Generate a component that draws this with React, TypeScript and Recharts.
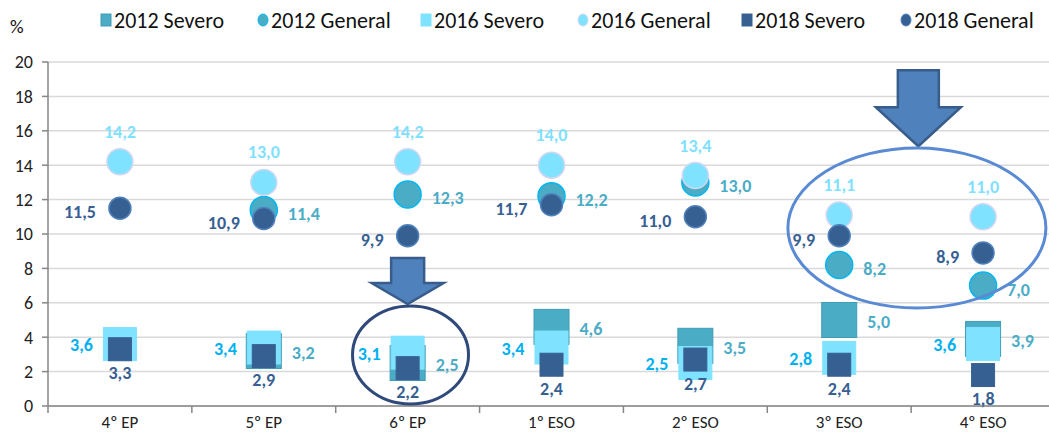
import React from "react";
import {
  ScatterChart,
  Scatter,
  XAxis,
  YAxis,
  CartesianGrid,
  ReferenceDot,
} from "recharts";

const categories = ["4º EP", "5º EP", "6º EP", "1º ESO", "2º ESO", "3º ESO", "4º ESO"];
const severo2012 = [null, 3.2, 2.5, 4.6, 3.5, 5.0, 3.9];
const general2012 = [null, 11.4, 12.3, 12.2, 13.0, 8.2, 7.0];
const severo2016 = [3.6, 3.4, 3.1, 3.4, 2.5, 2.8, 3.6];
const general2016 = [14.2, 13.0, 14.2, 14.0, 13.4, 11.1, 11.0];
const severo2018 = [3.3, 2.9, 2.2, 2.4, 2.7, 2.4, 1.8];
const general2018 = [11.5, 10.9, 9.9, 11.7, 11.0, 9.9, 8.9];
const yTicks = [0, 2, 4, 6, 8, 10, 12, 14, 16, 18, 20];

const FONT = "Carlito, Lato, 'Noto Sans', sans-serif";

const fmt = (v: number) => v.toFixed(1).replace(".", ",");

type Series = {
  name: string;
  values: (number | null)[];
  kind: "square" | "circle";
  size: number;
  fill: string;
  stroke: string;
  labelColor: string;
  dx: number;
  dy: number;
  anchor: "start" | "middle" | "end";
};

const series: Series[] = [
  { name: "2012 Severo", values: severo2012, kind: "square", size: 35, fill: "#4BACC6", stroke: "#3E9CB6", labelColor: "#4BACC6", dx: 28, dy: 2, anchor: "start" },
  { name: "2012 General", values: general2012, kind: "circle", size: 27, fill: "#4BACC6", stroke: "#00B8F0", labelColor: "#4BACC6", dx: 24, dy: 4, anchor: "start" },
  { name: "2016 Severo", values: severo2016, kind: "square", size: 33, fill: "#7FE3FF", stroke: "#7FE3FF", labelColor: "#00B0F0", dx: -27, dy: 1, anchor: "end" },
  { name: "2016 General", values: general2016, kind: "circle", size: 26, fill: "#7FE3FF", stroke: "#D2D6F0", labelColor: "#7FE1FF", dx: 0, dy: -30, anchor: "middle" },
  { name: "2018 Severo", values: severo2018, kind: "square", size: 23, fill: "#376092", stroke: "#376092", labelColor: "#376092", dx: 0, dy: 24, anchor: "middle" },
  { name: "2018 General", values: general2018, kind: "circle", size: 22, fill: "#376092", stroke: "#4F81BD", labelColor: "#376092", dx: -24, dy: 4, anchor: "end" },
];

const toPoints = (values: (number | null)[]) =>
  values
    .map((v, i) => (v == null ? null : { x: i + 0.5, y: v }))
    .filter((p) => p !== null) as { x: number; y: number }[];

const makeShape = (s: Series) => (props: any) => {
  const { cx, cy, payload } = props;
  if (cx == null || cy == null) return <g />;
  const h = s.size / 2;
  return (
    <g>
      {s.kind === "square" ? (
        <rect x={cx - h} y={cy - h} width={s.size} height={s.size} fill={s.fill} stroke={s.stroke} strokeWidth={1} />
      ) : (
        <circle cx={cx} cy={cy} r={h} fill={s.fill} stroke={s.stroke} strokeWidth={1.5} />
      )}
      <text
        x={cx + s.dx}
        y={cy + s.dy}
        textAnchor={s.anchor}
        dominantBaseline="central"
        fill={s.labelColor}
        fontFamily={FONT}
        fontWeight="bold"
        fontSize={18}
      >
        {fmt(payload.y)}
      </text>
    </g>
  );
};

const XTick = (props: any) => {
  const { x, y, payload } = props;
  const v = payload.value;
  if (Number.isInteger(v)) {
    return <line x1={x} x2={x} y1={y} y2={y + 7} stroke="#868686" strokeWidth={1.5} />;
  }
  return (
    <text x={x} y={y + 16} textAnchor="middle" dominantBaseline="central" fill="#222" fontFamily={FONT} fontSize={17}>
      {categories[Math.floor(v)]}
    </text>
  );
};

const xTicks = Array.from({ length: 15 }, (_, i) => i / 2);

// annotation shapes (arrows and ellipses)
const DownArrow = (shaftW: number, headW: number, shaftH: number, headH: number, fill: string, stroke: string) => (props: any) => {
  const { cx, cy } = props;
  const pts = [
    [cx - shaftW / 2, cy - headH - shaftH],
    [cx + shaftW / 2, cy - headH - shaftH],
    [cx + shaftW / 2, cy - headH],
    [cx + headW / 2, cy - headH],
    [cx, cy],
    [cx - headW / 2, cy - headH],
    [cx - shaftW / 2, cy - headH],
  ]
    .map((p) => p.join(","))
    .join(" ");
  return <polygon points={pts} fill={fill} stroke={stroke} strokeWidth={2.5} strokeLinejoin="miter" />;
};

const Ellipse = (rx: number, ry: number, stroke: string) => (props: any) => (
  <ellipse cx={props.cx} cy={props.cy} rx={rx} ry={ry} fill="none" stroke={stroke} strokeWidth={3} />
);

const Legend = () => {
  const lefts = [100, 257, 420, 577, 741, 900];
  return (
    <>
      {series.map((s, i) => (
        <div
          key={s.name}
          style={{
            position: "absolute",
            left: lefts[i],
            top: 7,
            height: 26,
            display: "flex",
            alignItems: "center",
            fontFamily: FONT,
            fontSize: 22,
            color: "#111",
            whiteSpace: "nowrap",
          }}
        >
          <svg width={12} height={14} style={{ marginRight: 2 }}>
            {s.kind === "square" ? (
              <rect x={1} y={1} width={10} height={12} fill={s.fill} stroke={s.stroke} />
            ) : (
              <ellipse cx={6} cy={7} rx={5} ry={6} fill={s.fill} stroke={s.stroke} />
            )}
          </svg>
          {s.name}
        </div>
      ))}
    </>
  );
};

export default function App() {
  return (
    <div
      style={{
        position: "absolute",
        left: 0,
        top: 0,
        width: 1049,
        height: 432,
        overflow: "hidden",
        background: "#fff",
      }}
    >
      <Legend />
      <div style={{ position: "absolute", left: 10, top: 15, fontFamily: FONT, fontSize: 19, color: "#111" }}>%</div>
      <ScatterChart width={1056} height={432} margin={{ top: 62, right: 1, left: 0, bottom: 0 }}>
        <CartesianGrid vertical={false} stroke="#D9D9D9" strokeWidth={1.5} />
        <XAxis
          type="number"
          dataKey="x"
          domain={[0, 7]}
          ticks={xTicks}
          interval={0}
          tick={<XTick />}
          tickLine={false}
          tickSize={0}
          tickMargin={0}
          height={26}
          axisLine={{ stroke: "#868686", strokeWidth: 1.5 }}
        />
        <YAxis
          type="number"
          dataKey="y"
          domain={[0, 20]}
          ticks={yTicks}
          interval={0}
          width={48}
          tickSize={6}
          tickMargin={9}
          tick={{ fill: "#222", fontSize: 18, fontFamily: FONT }}
          tickLine={{ stroke: "#868686", strokeWidth: 1.5 }}
          axisLine={{ stroke: "#868686", strokeWidth: 1.5 }}
        />
        {series.map((s) => (
          <Scatter
            key={s.name}
            name={s.name}
            data={toPoints(s.values)}
            shape={makeShape(s)}
            isAnimationActive={false}
          />
        ))}
        <ReferenceDot x={2.5} y={5.93} ifOverflow="visible" shape={DownArrow(33, 72, 25, 21, "#4F81BD", "#385D8A")} />
        <ReferenceDot x={2.52} y={2.97} ifOverflow="visible" shape={Ellipse(58, 49, "#2F4A7A")} />
        <ReferenceDot x={6.05} y={15.1} ifOverflow="visible" shape={DownArrow(41, 85, 37, 39, "#4F81BD", "#385D8A")} />
        <ReferenceDot x={6.04} y={10.35} ifOverflow="visible" shape={Ellipse(129, 80, "#5A8AD4")} />
      </ScatterChart>
    </div>
  );
}
